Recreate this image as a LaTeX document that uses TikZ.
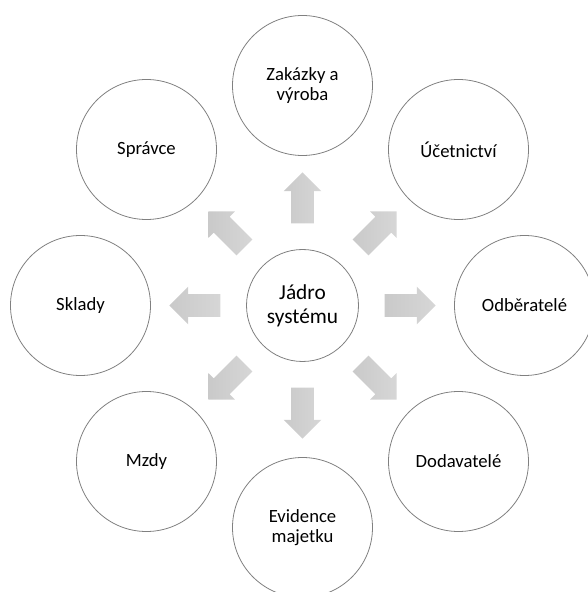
\documentclass[tikz,border=0pt]{standalone}
\usepackage{fontspec}
\setmainfont{Carlito}
\usetikzlibrary{shapes.arrows}
\begin{document}
\begin{tikzpicture}[x=0.75pt,y=0.75pt,
    module/.style={circle,draw=black!50,line width=0.6pt,minimum size=105pt,inner sep=0pt,align=center,font=\fontsize{14}{15.5}\selectfont},
    core/.style={circle,draw=black!50,line width=0.6pt,minimum size=84pt,inner sep=0pt,align=center,font=\fontsize{16}{17.8}\selectfont},
    flow/.style={single arrow,draw=none,inner sep=0pt,inner ysep=8.25pt,minimum height=38.25pt,single arrow head extend=5.625pt,single arrow tip angle=90,left color=black!21,right color=black!16}]
    \useasboundingbox (-302.5,-286.5) rectangle (284.5,305.5);
    \node[core] at (0,0) (core) {Jádro\\ systému};
    \node[module] at (0,220) (orders) {Zakázky a\\ výroba};
    \node[module] at (156,156) (account) {Účetnictví};
    \node[module] at (222,0) (buyers) {Odběratelé};
    \node[module] at (156,-156) (suppliers) {Dodavatelé};
    \node[module] at (0,-222) (assets) {Evidence\\ majetku};
    \node[module] at (-156,-156) (wages) {Mzdy};
    \node[module] at (-222,0) (stores) {Sklady};
    \node[module] at (-156,156) (admin) {Správce};
    \node[flow,rotate=90] at (0,102) (toorders) {};
    \node[flow,rotate=45] at (72.1,72.1) (toaccount) {};
    \node[flow,rotate=0] at (102,0) (tobuyers) {};
    \node[flow,rotate=-45] at (72.1,-72.1) (tosuppliers) {};
    \node[flow,rotate=-90] at (0,-102) (toassets) {};
    \node[flow,rotate=-135] at (-72.1,-72.1) (towages) {};
    \node[flow,rotate=180] at (-102,0) (tostores) {};
    \node[flow,rotate=135] at (-72.1,72.1) (toadmin) {};
\end{tikzpicture}
\end{document}
